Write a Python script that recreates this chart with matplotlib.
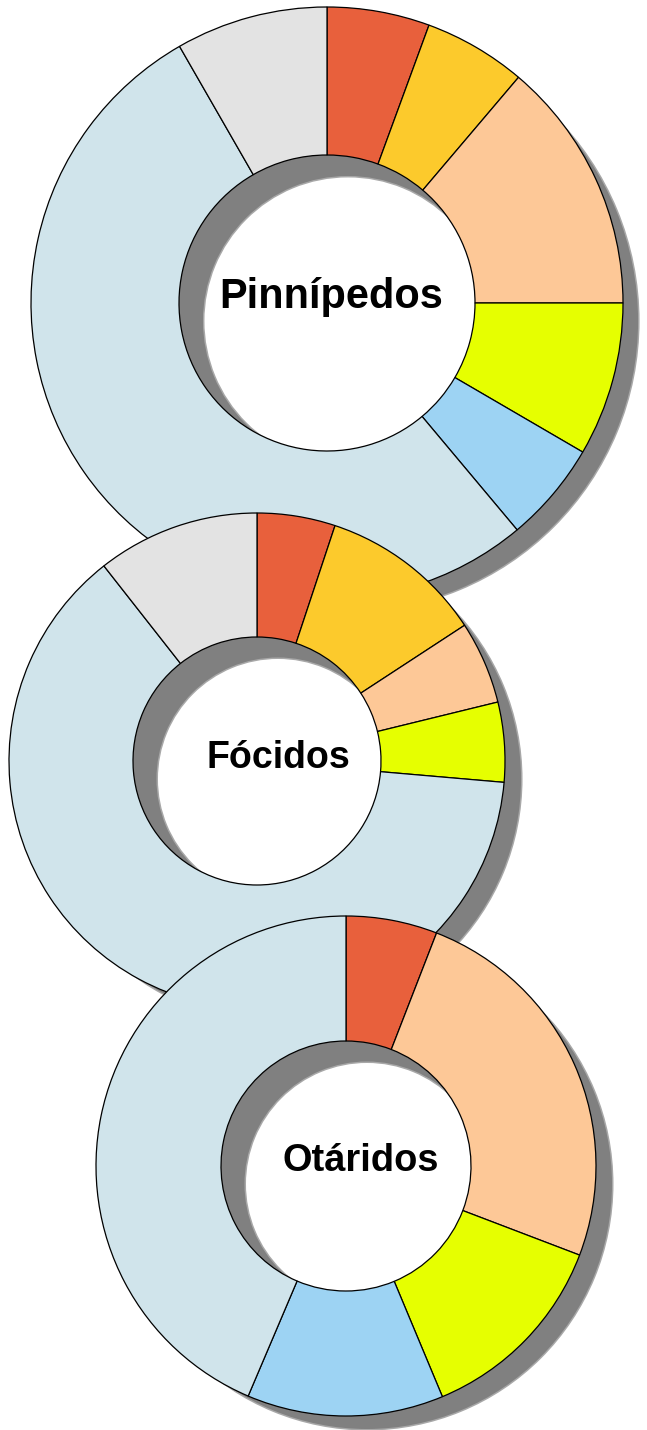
import matplotlib.pyplot as plt

# --- data (percent of each group, clockwise from 12 o'clock) ---
slice_colors = ['#E8603C', '#FCCA2C', '#FDC897', '#E6FF00', '#9DD3F3', '#D0E4EB', '#E3E3E3']

pinnipedos = [5.6, 5.6, 13.8, 8.4, 5.5, 52.8, 8.3]
focidos = [5.1, 10.7, 5.4, 5.2, 0.0, 63.1, 10.6]
otaridos = [5.9, 0.0, 24.9, 12.9, 12.7, 43.6, 0.0]

titles = ['Pinnípedos', 'Fócidos', 'Otáridos']

# --- layout in pixels (x, y from top, outer radius) ---
W, H = 647, 1430
centers = [(327, 303), (257, 761), (346, 1166)]
radii = [296, 248, 250]
label_pos = [(331, 308), (278, 768), (361, 1171)]
label_px = [41.5, 37.5, 38]
shadow_dx, shadow_dy = 21, 18

plt.rcParams['font.family'] = ['Liberation Sans', 'DejaVu Sans']

fig = plt.figure(figsize=(W / 100, H / 100), dpi=100)
ax = fig.add_axes([0, 0, 1, 1])

groups = [pinnipedos, focidos, otaridos]
for vals, (cx, cy), R, title, (tx, ty), fs in zip(groups, centers, radii, titles, label_pos, label_px):
    # drop empty categories
    v = [x for x in vals if x > 0]
    c = [col for x, col in zip(vals, slice_colors) if x > 0]

    # gray drop shadow (soft rim + solid ring)
    rs = R * 0.98
    ax.pie([1], radius=rs + 1.5, center=(cx + shadow_dx, H - cy - shadow_dy),
           colors=['#a8a8a8'], startangle=90, frame=True,
           wedgeprops=dict(width=rs * 0.5 + 3, edgecolor='none'))
    ax.pie([1], radius=rs, center=(cx + shadow_dx, H - cy - shadow_dy),
           colors=['#808080'], startangle=90, frame=True,
           wedgeprops=dict(width=rs * 0.5, edgecolor='none'))

    # the donut itself
    ax.pie(v, radius=R, center=(cx, H - cy), colors=c,
           startangle=90, counterclock=False, frame=True,
           wedgeprops=dict(width=R * 0.5, edgecolor='black', linewidth=0.9))

    ax.text(tx, H - ty, title, ha='center', va='baseline',
            fontsize=fs * 0.72, fontweight='bold', color='black')

ax.set_xlim(0, W)
ax.set_ylim(0, H)
ax.set_aspect('equal')
ax.axis('off')

fig.savefig('out.png', dpi=100, facecolor='white')
